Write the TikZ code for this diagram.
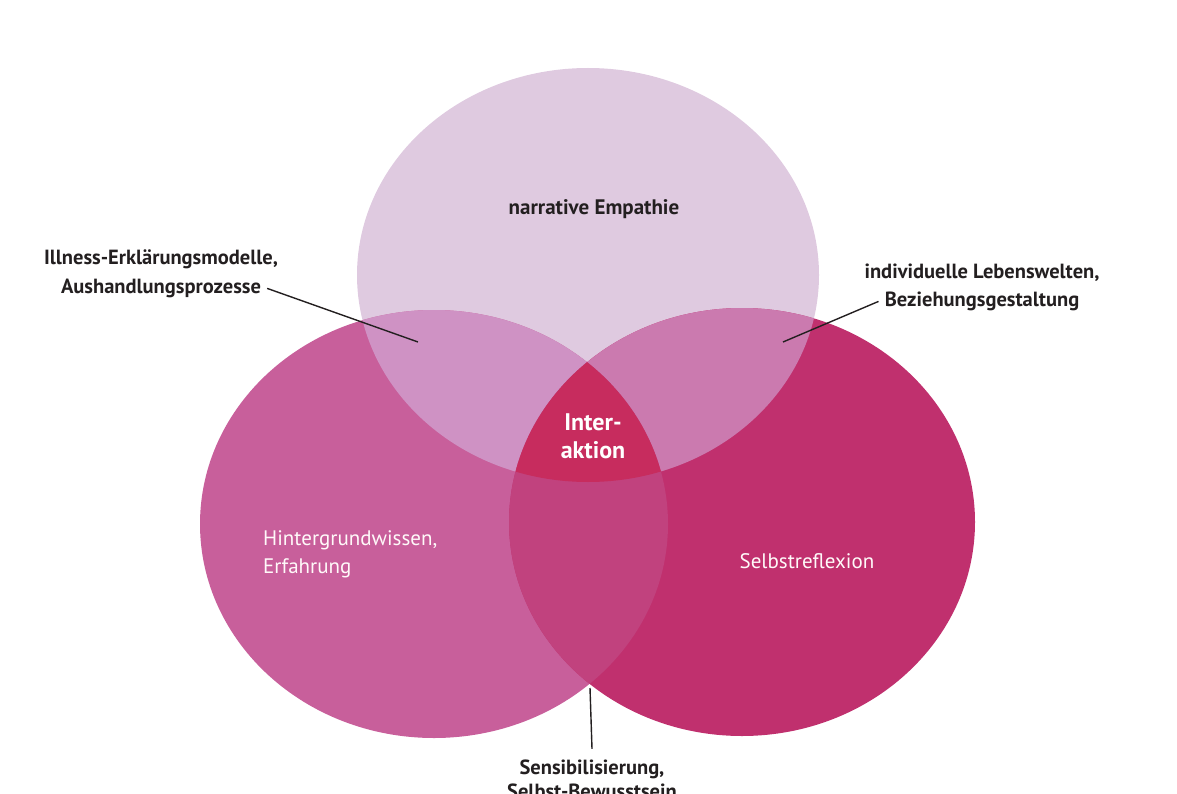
\documentclass[tikz,border=0pt]{standalone}
\usepackage{fontspec}
\setmainfont{PT Sans}
\usetikzlibrary{positioning}
\definecolor{topcol}{HTML}{DFCAE0}
\definecolor{leftcol}{HTML}{C85F9B}
\definecolor{rightcol}{HTML}{C0306E}
\definecolor{tlcol}{HTML}{CF92C4}
\definecolor{trcol}{HTML}{CB7AAF}
\definecolor{lrcol}{HTML}{C1427E}
\definecolor{midcol}{HTML}{C72C5E}
\definecolor{inktext}{HTML}{231F20}
\tikzset{lbl/.style={font=\fontsize{20.5}{28}\selectfont\bfseries,text=inktext,inner sep=0pt,text height=15pt,text depth=5pt}}
\tikzset{inlbl/.style={font=\fontsize{21}{28}\selectfont,text=white!90!pink,inner sep=0pt,text height=15pt,text depth=5pt}}
\tikzset{midlbl/.style={font=\fontsize{24}{28}\selectfont\bfseries,text=white,inner sep=0pt,text height=17pt,text depth=5pt}}
\tikzset{pin/.style={line width=1.4pt,draw=inktext}}
\def\topC{(T) ellipse (231pt and 207pt)}
\def\leftC{(L) ellipse (234pt and 214pt)}
\def\rightC{(R) ellipse (233pt and 214pt)}
\begin{document}
\begin{tikzpicture}[x=1pt,y=-1pt,node distance=8pt]
      \useasboundingbox (0,0) rectangle (1177,794);
      \coordinate (T) at (588,275);
      \coordinate (L) at (434,524);
      \coordinate (R) at (742,522);

      % circles and overlaps
      \fill[topcol] \topC;
      \fill[leftcol] \leftC;
      \fill[rightcol] \rightC;
      \begin{scope}
        \clip \topC;
        \fill[tlcol] \leftC;
        \fill[trcol] \rightC;
      \end{scope}
      \begin{scope}
        \clip \leftC;
        \fill[lrcol] \rightC;
      \end{scope}
      \begin{scope}
        \clip \topC;
        \clip \leftC;
        \fill[midcol] \rightC;
      \end{scope}

      \node[lbl,font=\fontsize{21}{28}\selectfont\bfseries](empathie) at (594,210){narrative Empathie};
      \node[inlbl,anchor=west](hinter) at (263,540){Hintergrundwissen,};
      \node[inlbl,below=of hinter.south west,anchor=north west](erfahrung){Erfahrung};
      \node[inlbl](selbst) at (807,563){Selbstreflexion};
      \node[midlbl](inter) at (593,424){Inter-};
      \node[midlbl,below=6pt of inter](aktion){aktion};

      \node[lbl](illness) at (161,260){Illness-Erklärungsmodelle,};
      \node[lbl,below=of illness](aushandlung){Aushandlungsprozesse};
      \node[lbl](lebens) at (982,273){individuelle Lebenswelten,};
      \node[lbl,below=of lebens](bez){Beziehungsgestaltung};
      \node[lbl](sensi) at (592,769){Sensibilisierung,};
      \node[lbl,below=4pt of sensi](bewusst){Selbst-Bewusstsein};

      \coordinate (tl) at (418,342);
      \coordinate (tr) at (783,342);
      \coordinate (lr) at (590,688);
      \draw[pin] ([xshift=6pt]aushandlung.east) -- (tl);
      \draw[pin] ([xshift=-6pt]bez.west) -- (tr);
      \draw[pin] (lr) -- ([yshift=10pt]sensi.north);
    \end{tikzpicture}
\end{document}
